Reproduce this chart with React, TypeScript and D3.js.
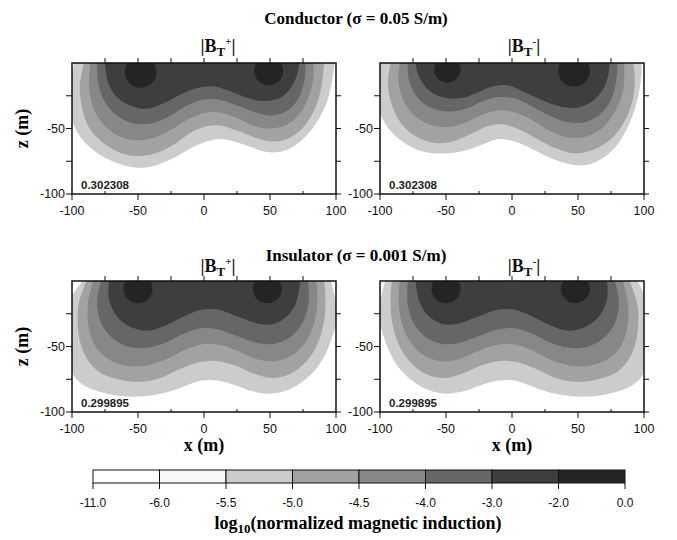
import React from 'react';
import * as d3 from 'd3';

// contour levels of the colour bar and the grey of each band between them
const levels = [-11, -6, -5.5, -5, -4.5, -4, -3, -2, 0];
const levelLabels = ['-11.0', '-6.0', '-5.5', '-5.0', '-4.5', '-4.0', '-3.0', '-2.0', '0.0'];
const bandColors = ['#ffffff', '#f7f7f7', '#cccccc', '#a2a2a2', '#878787', '#666666', '#3e3e3e', '#242424'];

// levels of the drawn contour rings (outer to inner)
const ringLevels = [-5.5, -5, -4.5, -4, -3];

// contour lines [x, z], one ring per level in ringLevels
const condPlus = [
  [[-98, 0], [-103, -20], [-101, -40], [-94, -56], [-82, -68], [-67, -76], [-51, -80], [-36, -78], [-22, -72], [-10, -65], [2, -60], [12, -58], [23, -60], [35, -64], [48, -68], [61, -67], [74, -59], [85, -46], [93, -30], [97, -14], [99, 0]],
  [[-91, 0], [-94, -18], [-92, -36], [-86, -51], [-75, -62], [-62, -69], [-48, -71], [-34, -68], [-21, -61], [-8, -52], [3, -48], [14, -48], [26, -52], [39, -57], [52, -60], [65, -57], [76, -48], [84, -35], [89, -18], [91, 0]],
  [[-86, 0], [-87, -18], [-84, -34], [-77, -46], [-66, -55], [-52, -59], [-38, -57], [-25, -51], [-12, -43], [1, -38], [13, -38], [25, -42], [38, -48], [51, -50], [63, -47], [73, -38], [80, -24], [83, -10], [83, 0]],
  [[-81, 0], [-80, -16], [-75, -30], [-66, -40], [-54, -46], [-40, -46], [-27, -41], [-14, -33], [-1, -28], [12, -28], [24, -32], [37, -37], [50, -40], [62, -37], [71, -28], [76, -14], [77, 0]],
  [[-75, 0], [-73, -14], [-67, -25], [-57, -32], [-44, -35], [-31, -31], [-18, -24], [-5, -19], [8, -18], [21, -22], [34, -27], [47, -29], [59, -26], [67, -17], [71, -7], [72, 0]],
];
const condMinus = [
  [[-102, 0], [-103, -20], [-100, -38], [-92, -52], [-80, -62], [-66, -68], [-50, -69], [-36, -67], [-22, -62], [-10, -58], [2, -60], [14, -65], [28, -72], [42, -77], [55, -78], [68, -73], [80, -62], [89, -46], [95, -28], [98, -10], [98, 0]],
  [[-92, 0], [-94, -16], [-91, -32], [-84, -46], [-73, -56], [-59, -61], [-45, -60], [-31, -54], [-18, -48], [-6, -47], [6, -51], [19, -58], [33, -65], [48, -69], [62, -66], [75, -58], [85, -45], [91, -30], [93, -14], [92, 0]],
  [[-85, 0], [-86, -14], [-82, -29], [-74, -40], [-62, -47], [-48, -49], [-34, -45], [-21, -39], [-9, -36], [3, -38], [16, -44], [29, -52], [43, -57], [57, -56], [69, -49], [78, -37], [84, -22], [85, 0]],
  [[-79, 0], [-78, -13], [-72, -26], [-62, -34], [-49, -37], [-35, -35], [-22, -29], [-10, -26], [2, -27], [15, -33], [28, -40], [42, -45], [56, -45], [67, -39], [75, -28], [79, -13], [80, 0]],
  [[-73, 0], [-71, -9], [-64, -20], [-53, -26], [-40, -27], [-27, -23], [-15, -18], [-3, -17], [9, -22], [22, -28], [36, -33], [50, -34], [61, -29], [69, -20], [73, -9], [74, 0]],
];
const insPlus = [
  [[-92, 0], [-104, -20], [-104, -50], [-100, -70], [-92, -79], [-78, -85], [-62, -88], [-45, -88], [-28, -85], [-14, -80], [-2, -76], [10, -76], [22, -79], [36, -84], [50, -86], [64, -83], [77, -75], [88, -63], [96, -46], [101, -25], [96, 0]],
  [[-89, 0], [-95, -18], [-95, -40], [-90, -57], [-80, -69], [-65, -75], [-49, -77], [-33, -74], [-18, -67], [-4, -62], [9, -61], [22, -64], [36, -70], [51, -74], [65, -71], [77, -62], [86, -48], [91, -30], [92, -12], [91, 0]],
  [[-84, 0], [-88, -18], [-87, -37], [-81, -52], [-70, -61], [-56, -65], [-41, -64], [-27, -59], [-13, -52], [0, -48], [13, -49], [27, -54], [41, -60], [55, -61], [68, -56], [78, -45], [84, -30], [86, -12], [85, 0]],
  [[-78, 0], [-81, -16], [-78, -32], [-70, -43], [-58, -50], [-43, -51], [-29, -47], [-15, -40], [-2, -36], [11, -37], [25, -42], [39, -47], [53, -48], [65, -43], [74, -33], [79, -18], [79, 0]],
  [[-72, 0], [-72, -14], [-66, -27], [-56, -35], [-43, -38], [-29, -34], [-15, -27], [-2, -22], [11, -22], [25, -27], [39, -32], [52, -33], [63, -27], [70, -16], [73, 0]],
];
const insMinus = [
  [[-96, 0], [-101, -25], [-96, -46], [-88, -63], [-77, -75], [-64, -83], [-50, -86], [-36, -84], [-22, -79], [-10, -76], [2, -76], [14, -80], [28, -85], [45, -88], [62, -88], [78, -85], [92, -79], [100, -70], [104, -50], [104, -20], [95, 0]],
  [[-91, 0], [-92, -12], [-91, -30], [-86, -48], [-77, -62], [-65, -71], [-51, -74], [-36, -70], [-22, -64], [-9, -61], [4, -62], [18, -67], [33, -74], [49, -77], [65, -75], [80, -69], [90, -57], [95, -40], [95, -18], [89, 0]],
  [[-85, 0], [-86, -12], [-84, -30], [-78, -45], [-68, -56], [-55, -61], [-41, -60], [-27, -54], [-13, -49], [0, -48], [13, -52], [27, -59], [41, -64], [56, -65], [70, -61], [81, -52], [87, -37], [88, -18], [84, 0]],
  [[-79, 0], [-79, -18], [-74, -33], [-65, -43], [-53, -48], [-39, -47], [-25, -42], [-11, -37], [2, -36], [15, -40], [29, -47], [43, -51], [58, -50], [70, -43], [78, -32], [81, -16], [78, 0]],
  [[-73, 0], [-70, -16], [-63, -27], [-52, -33], [-39, -32], [-25, -27], [-11, -22], [2, -22], [15, -27], [29, -34], [43, -38], [56, -35], [66, -27], [72, -14], [72, 0]],
];

// the -2 contour around each source: [x, z, radius]
const condPlusSources = [[-48, -7, 12], [49, -6, 11]];
const condMinusSources = [[-49, -5, 10], [47, -6, 12]];
const insPlusSources = [[-50, -6, 11], [48, -6, 11]];
const insMinusSources = [[-50, -6, 11], [48, -6, 11]];

const panelValues = ['0.302308', '0.302308', '0.299895', '0.299895'];

// axis ticks (data units)
const xTickValues = [-100, -75, -50, -25, 0, 25, 50, 75, 100];
const zTickValues = [-25, -50, -75, -100];

const W = 677;
const H = 540;
const serif = '"Liberation Serif", "DejaVu Serif", serif';
const sans = '"Liberation Sans", Arial, sans-serif';

function Panel({ id, left, top, width, height, rings, sources, value }) {
  const x = d3.scaleLinear().domain([-100, 100]).range([0, width]);
  const z = d3.scaleLinear().domain([0, -100]).range([0, height]);
  const line = d3
    .line()
    .x(d => x(d[0]))
    .y(d => z(d[1]))
    .curve(d3.curveCatmullRom.alpha(0.5));

  return (
    <g transform={`translate(${left},${top})`}>
      <defs>
        <clipPath id={id}>
          <rect width={width} height={height} />
        </clipPath>
      </defs>
      <g clipPath={`url(#${id})`}>
        <rect width={width} height={height} fill="#fff" />
        {rings.map((pts, i) => (
          <path
            key={i}
            d={line(pts) + 'Z'}
            fill={bandColors[levels.indexOf(ringLevels[i])]}
          />
        ))}
        {sources.map((s, i) => (
          <ellipse
            key={i}
            cx={x(s[0])}
            cy={z(s[1])}
            rx={x(s[2]) - x(0)}
            ry={z(-s[2]) - z(0)}
            fill={bandColors[levels.indexOf(-2)]}
          />
        ))}
      </g>
      <rect width={width} height={height} fill="none" stroke="#111" strokeWidth={1.5} />
      {xTickValues.map(v => (
        <g key={v}>
          {v > -100 && v < 100 && (
            <line x1={x(v)} x2={x(v)} y1={0} y2={-5} stroke="#111" strokeWidth={1} />
          )}
          <line
            x1={x(v)}
            x2={x(v)}
            y1={height}
            y2={v % 50 === 0 ? height + 6 : height - 3}
            stroke="#111"
            strokeWidth={1}
          />
          {v % 50 === 0 && (
            <text
              x={x(v)}
              y={height + 21}
              textAnchor="middle"
              fontFamily={sans}
              fontSize={12.5}
              fill="#111"
            >
              {v}
            </text>
          )}
        </g>
      ))}
      {zTickValues.map(v => (
        <g key={v}>
          <line x1={0} x2={-6} y1={z(v)} y2={z(v)} stroke="#111" strokeWidth={1} />
          <line x1={width} x2={width + 5} y1={z(v)} y2={z(v)} stroke="#111" strokeWidth={1} />
          {v % 50 === 0 && (
            <text
              x={-7}
              y={z(v) + 4}
              textAnchor="end"
              fontFamily={sans}
              fontSize={12.5}
              fill="#111"
            >
              {v}
            </text>
          )}
        </g>
      ))}
      <text x={9} y={height - 5} fontFamily={sans} fontSize={11.5} fontWeight="bold" fill="#222">
        {value}
      </text>
    </g>
  );
}

function BLabel({ x, y, sign }) {
  return (
    <text x={x} y={y} textAnchor="middle" fontFamily={serif} fontWeight="bold" fontSize={18} fill="#111">
      |B
      <tspan dy={4} fontSize={13}>T</tspan>
      <tspan dy={-11} fontSize={11}>{sign}</tspan>
      <tspan dy={7} fontSize={18}>|</tspan>
    </text>
  );
}

export default function App() {
  const cbX = d3.scalePoint().domain(levelLabels).range([93, 625]);
  const cbTop = 470;
  const cbH = 13;

  const colL = 72;
  const colR = 380;
  const pw = 264;
  const rowT = 63;
  const rowB = 281;
  const ph = 131;

  return (
    <svg
      width={W}
      height={H}
      style={{ position: 'absolute', left: 0, top: 0, background: '#fff' }}
    >
      <text x={356} y={24} textAnchor="middle" fontFamily={serif} fontWeight="bold" fontSize={17}>
        Conductor (σ = 0.05 S/m)
      </text>
      <BLabel x={218} y={52} sign="+" />
      <BLabel x={524} y={52} sign="-" />

      <text x={356} y={261} textAnchor="middle" fontFamily={serif} fontWeight="bold" fontSize={17}>
        Insulator (σ = 0.001 S/m)
      </text>
      <BLabel x={218} y={272} sign="+" />
      <BLabel x={524} y={272} sign="-" />

      <Panel id="p1" left={colL} top={rowT} width={pw} height={ph} rings={condPlus} sources={condPlusSources} value={panelValues[0]} />
      <Panel id="p2" left={colR} top={rowT} width={pw} height={ph} rings={condMinus} sources={condMinusSources} value={panelValues[1]} />
      <Panel id="p3" left={colL} top={rowB} width={pw} height={ph} rings={insPlus} sources={insPlusSources} value={panelValues[2]} />
      <Panel id="p4" left={colR} top={rowB} width={pw} height={ph} rings={insMinus} sources={insMinusSources} value={panelValues[3]} />

      <text transform={`translate(28,${rowT + ph / 2}) rotate(-90)`} textAnchor="middle" fontFamily={serif} fontWeight="bold" fontSize={18}>
        z (m)
      </text>
      <text transform={`translate(28,${rowB + ph / 2}) rotate(-90)`} textAnchor="middle" fontFamily={serif} fontWeight="bold" fontSize={18}>
        z (m)
      </text>
      <text x={colL + pw / 2} y={451} textAnchor="middle" fontFamily={serif} fontWeight="bold" fontSize={18}>
        x (m)
      </text>
      <text x={colR + pw / 2} y={451} textAnchor="middle" fontFamily={serif} fontWeight="bold" fontSize={18}>
        x (m)
      </text>

      {bandColors.map((c, i) => (
        <rect
          key={i}
          x={cbX(levelLabels[i])}
          y={cbTop}
          width={cbX(levelLabels[i + 1]) - cbX(levelLabels[i])}
          height={cbH}
          fill={c}
          stroke="#111"
          strokeWidth={1}
        />
      ))}
      {levelLabels.map(l => (
        <g key={l}>
          <line x1={cbX(l)} x2={cbX(l)} y1={cbTop + cbH} y2={cbTop + cbH + 6} stroke="#111" />
          <text x={cbX(l)} y={507} textAnchor="middle" fontFamily={sans} fontSize={12} fill="#111">
            {l}
          </text>
        </g>
      ))}
      <text x={358} y={529} textAnchor="middle" fontFamily={serif} fontWeight="bold" fontSize={18}>
        log
        <tspan dy={4} fontSize={13}>10</tspan>
        <tspan dy={-4}>(normalized magnetic induction)</tspan>
      </text>
    </svg>
  );
}
